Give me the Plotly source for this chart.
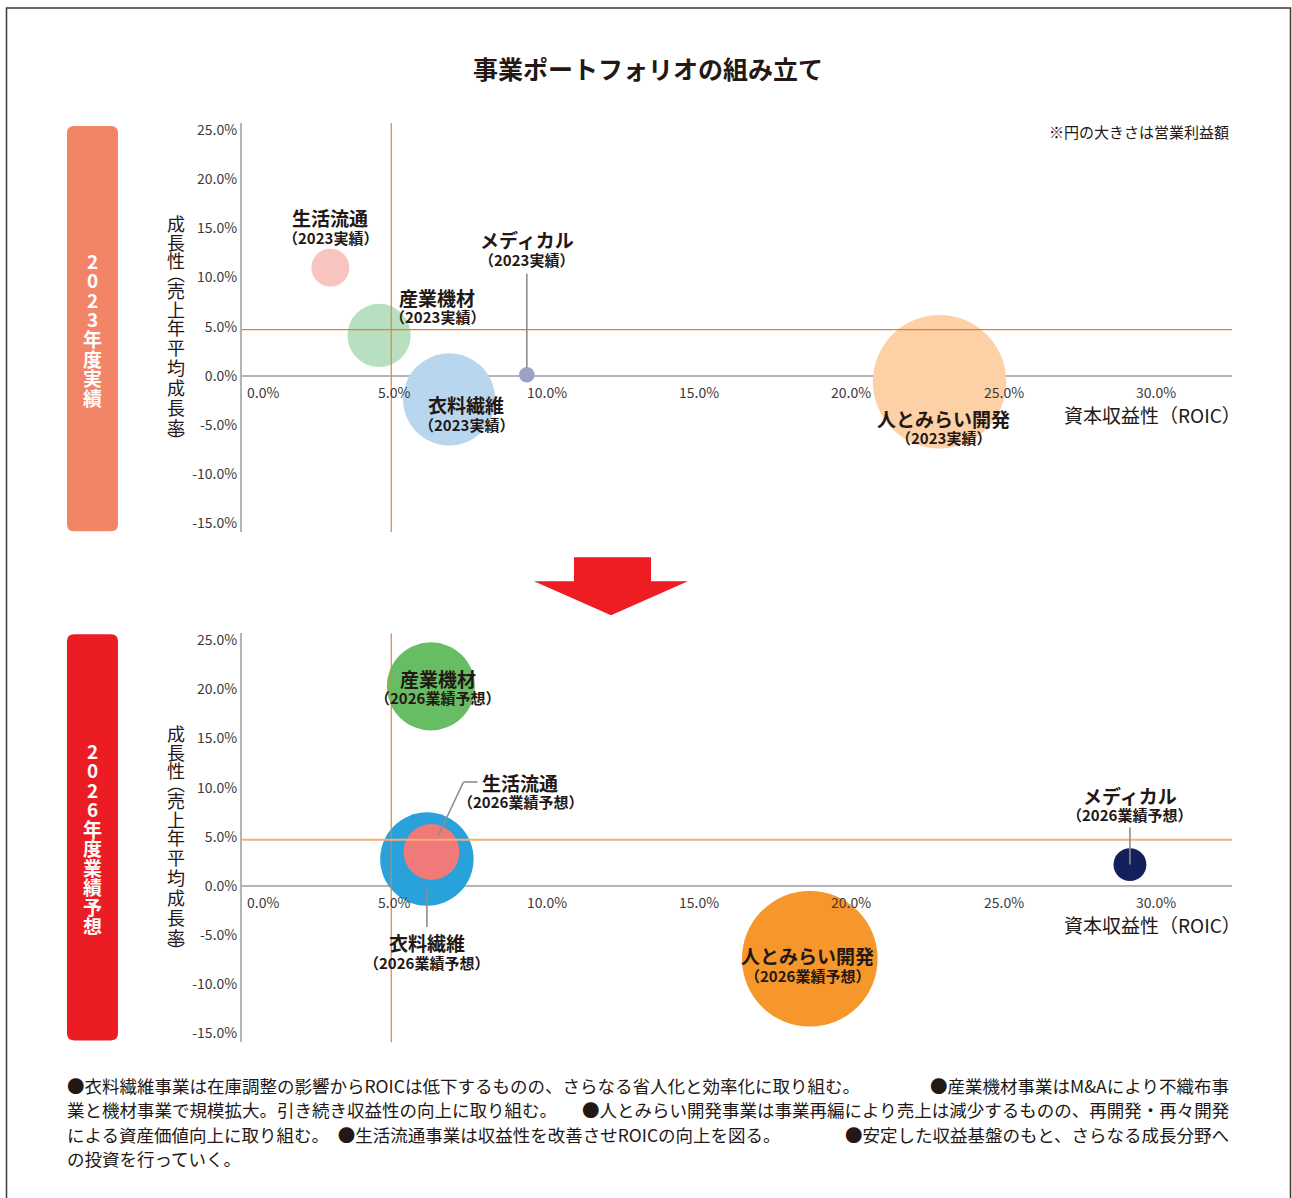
import plotly.graph_objects as go

W, H = 1292, 1198

# ---- data -------------------------------------------------------------
segments = ["衣料繊維", "産業機材", "人とみらい開発", "生活流通", "メディカル"]

roic_2023 = [6.8, 4.5, 22.9, 2.9, 9.35]          # ROIC (%)
growth_2023 = [-2.4, 4.1, -0.6, 11.0, 0.1]       # sales CAGR (%)
profit_2023 = [21.2, 10.0, 44.5, 3.6, 0.6]       # operating profit (bubble area)

roic_2026 = [6.07, 6.2, 18.64, 6.22, 29.15]
growth_2026 = [2.74, 20.3, -7.4, 3.46, 2.18]
profit_2026 = [21.8, 19.4, 46.0, 7.8, 2.7]

tag_2023 = "（2023実績）"
tag_2026 = "（2026業績予想）"

x_ticks = [0, 5, 10, 15, 20, 25, 30]
y_ticks = [-15, -10, -5, 0, 5, 10, 15, 20, 25]
roic_hurdle = 4.9
growth_hurdle = 4.7

title_text = "事業ポートフォリオの組み立て"
note_text = "※円の大きさは営業利益額"
x_title = "資本収益性（ROIC）"
y_title = ["成", "長", "性", "︵", "売", "上", "年", "平", "均", "成", "長", "率", "︶"]
side_2023 = list("2023年度実績")
side_2026 = list("2026年度業績予想")
# each footnote line: (left-aligned part, right-aligned part)
footnote_lines = [
    ("●衣料繊維事業は在庫調整の影響からROICは低下するものの、さらなる省人化と効率化に取り組む。",
     "●産業機材事業はM&Aにより不織布事"),
    ("業と機材事業で規模拡大。引き続き収益性の向上に取り組む。",
     "●人とみらい開発事業は事業再編により売上は減少するものの、再開発・再々開発"),
    ("による資産価値向上に取り組む。　●生活流通事業は収益性を改善させROICの向上を図る。",
     "●安定した収益基盤のもと、さらなる成長分野へ"),
    ("の投資を行っていく。", ""),
]

# ---- styling ------------------------------------------------------------
FONT = "Noto Sans CJK JP, Noto Sans, sans-serif"
INK = "#231815"
AXIS_GREY = "#b4b4b6"
colors_2023 = ["#b9d6ef", "#b8dfc0", "#fdd1a5", "#f8c4c0", "#9fa0c6"]
colors_2026 = ["#29a1da", "#67bd64", "#f6962b", "#f07a79", "#13205c"]

X_RANGE = [0, 32.5]
Y_RANGE = [-15.9, 25.7]


def px(x):
    return x / W


def py(y):
    y = (y - 4) / 0.9963
    return 1 - y / H


def paper_text(x, y, text, size, color=INK, xanchor="center"):
    """Text placed at page pixel position (x, y)."""
    return dict(x=px(x), y=py(y), xref="paper", yref="paper", text=text,
                showarrow=False, xanchor=xanchor, yanchor="middle",
                font=dict(size=size, color=color, family=FONT))


x_dom = [px(242), px(1232)]
top_dom = [py(532), py(123)]
bot_dom = [py(1042), py(633)]

# label offsets (px): dx, name dy, sub dy  (positive dy = up)
offsets_top = {
    "衣料繊維": (17, -5, -25),
    "産業機材": (58, 38, 19),
    "人とみらい開発": (4, -37, -56),
    "生活流通": (0, 50, 30),
    "メディカル": (0, 135, 115),
}
offsets_bot = {
    "衣料繊維": (0, -83, -103),
    "産業機材": (7, 8, -11),
    "人とみらい開発": (-2, 3, -17),
    "生活流通": (89, 69, 50),
    "メディカル": (0, 69, 50),
}
# leader lines: segment -> list of ((dx0, dy0), (dx1, dy1)) in px from bubble centre
leaders_top = {"メディカル": [((0, 7), (0, 101))]}
leaders_bot = {
    "衣料繊維": [((0, -31), (0, -68))],
    "生活流通": [((7, 17), (32, 70)), ((32, 70), (46, 70))],
    "メディカル": [((0, 0), (0, 37))],
}

SIZEREF = 0.005  # radius^2 = profit / (2 * SIZEREF)

fig = go.Figure()
shapes = []
annotations = []


def add_panel(xr, yr, roic, growth, profit, colors, tag, offsets, leaders, zero_px, hline_color, hline_w):
    fig.add_trace(go.Scatter(
        x=roic, y=growth, mode="markers", xaxis=xr, yaxis=yr,
        marker=dict(size=profit, sizemode="area", sizeref=SIZEREF,
                    color=colors, opacity=1, line=dict(width=0)),
        hoverinfo="skip", showlegend=False,
    ))
    # hurdle lines
    shapes.append(dict(type="line", xref=xr, yref=yr, x0=roic_hurdle, x1=roic_hurdle,
                       y0=Y_RANGE[0], y1=Y_RANGE[1], layer="above",
                       line=dict(color="#ee7d2f", width=1.2)))
    shapes.append(dict(type="line", xref=xr, yref=yr, x0=X_RANGE[0], x1=X_RANGE[1],
                       y0=growth_hurdle, y1=growth_hurdle, layer="above",
                       line=dict(color=hline_color, width=hline_w)))
    # labels
    for seg, x, y in zip(segments, roic, growth):
        dx, dyn, dys = offsets[seg]
        annotations.append(dict(x=x, y=y, xref=xr, yref=yr, text="<b>%s</b>" % seg,
                                showarrow=False, xshift=dx, yshift=dyn,
                                xanchor="center", yanchor="middle",
                                font=dict(size=19, color=INK, family=FONT)))
        annotations.append(dict(x=x, y=y, xref=xr, yref=yr, text="<b>%s</b>" % tag,
                                showarrow=False, xshift=dx, yshift=dys,
                                xanchor="center", yanchor="middle",
                                font=dict(size=15, color=INK, family=FONT)))
        for (a, b) in leaders.get(seg, []):
            shapes.append(dict(type="line", xref=xr, yref=yr,
                               xsizemode="pixel", ysizemode="pixel",
                               xanchor=x, yanchor=y,
                               x0=a[0], x1=b[0], y0=a[1], y1=b[1], layer="above",
                               line=dict(color="#8c8c8c", width=1.6)))
    # x tick labels along the zero line
    for t in x_ticks:
        annotations.append(dict(x=t, y=0, xref=xr, yref=yr, text="%.1f%%" % t,
                                showarrow=False, xanchor="center", yanchor="top", yshift=-4,
                                xshift=21 if t == 0 else 0,
                                font=dict(size=14, color="#3a3a3a", family=FONT)))
    # x axis title
    annotations.append(paper_text(1243, zero_px + 38, x_title, 19, xanchor="right"))
    # vertical y-axis title
    rel = [-153, -134.3, -116, -103, -86, -67.5, -49, -29, -9, 11, 31, 51, 64]
    for ch, r in zip(y_title, rel):
        annotations.append(paper_text(176, zero_px + r, ch, 18))


add_panel("x", "y", roic_2023, growth_2023, profit_2023, colors_2023, tag_2023,
          offsets_top, leaders_top, 376, "#ee7d2f", 1.2)
add_panel("x2", "y2", roic_2026, growth_2026, profit_2026, colors_2026, tag_2026,
          offsets_bot, leaders_bot, 886, "#f7ae74", 2)

axis_common_x = dict(range=X_RANGE, domain=x_dom, showgrid=False, zeroline=False,
                     showline=False, showticklabels=False, fixedrange=True)
axis_common_y = dict(range=Y_RANGE, showgrid=False, zeroline=True,
                     zerolinecolor=AXIS_GREY, zerolinewidth=2,
                     showline=True, linecolor=AXIS_GREY, linewidth=2,
                     tickvals=y_ticks, ticktext=["%.1f%%" % v for v in y_ticks],
                     ticks="", ticklabelstandoff=0,
                     tickfont=dict(size=14, color="#3a3a3a", family=FONT), fixedrange=True)


# side badges (rounded rectangles)
def rounded(x0, y0, x1, y1, r):
    X = lambda v: px(v)
    Y = lambda v: py(v)
    return (f"M{X(x0 + r)},{Y(y0)} L{X(x1 - r)},{Y(y0)} Q{X(x1)},{Y(y0)} {X(x1)},{Y(y0 + r)} "
            f"L{X(x1)},{Y(y1 - r)} Q{X(x1)},{Y(y1)} {X(x1 - r)},{Y(y1)} "
            f"L{X(x0 + r)},{Y(y1)} Q{X(x0)},{Y(y1)} {X(x0)},{Y(y1 - r)} "
            f"L{X(x0)},{Y(y0 + r)} Q{X(x0)},{Y(y0)} {X(x0 + r)},{Y(y0)} Z")


shapes.append(dict(type="path", xref="paper", yref="paper", path=rounded(67, 126, 118, 531, 7),
                   fillcolor="#f38468", line=dict(width=0), layer="below"))
shapes.append(dict(type="path", xref="paper", yref="paper", path=rounded(67, 634, 118, 1040, 7),
                   fillcolor="#ec1c24", line=dict(width=0), layer="below"))

for i, ch in enumerate(side_2023):
    annotations.append(paper_text(92.5, 260 + 19.6 * i, "<b>%s</b>" % ch, 19, color="white"))
for i, ch in enumerate(side_2026):
    annotations.append(paper_text(92.5, 750 + 19.5 * i, "<b>%s</b>" % ch, 19, color="white"))

# transition arrow
arrow_pts = [(574, 557), (651, 557), (651, 581), (688, 581), (611, 615), (534, 581), (574, 581)]
arrow_path = "M" + " L".join(f"{px(a)},{py(b)}" for a, b in arrow_pts) + " Z"
shapes.append(dict(type="path", xref="paper", yref="paper", path=arrow_path,
                   fillcolor="#ee1d23", line=dict(width=0)))

# outer frame
shapes.append(dict(type="rect", xref="paper", yref="paper", x0=px(6.5), x1=px(1290.5),
                   y0=py(1210), y1=py(8), line=dict(color="#3a3a3a", width=1.5),
                   fillcolor="rgba(0,0,0,0)"))

# title and note
annotations.append(paper_text(648, 68, "<b>%s</b>" % title_text, 25))
annotations.append(paper_text(1231, 131, note_text, 15, xanchor="right"))

# footnote, justified between the left and right margins
for i, (left, right) in enumerate(footnote_lines):
    yy = 1085 + 24.5 * i
    annotations.append(paper_text(65, yy, left, 17.5, xanchor="left"))
    if right:
        annotations.append(paper_text(1231, yy, right, 17.5, xanchor="right"))

fig.update_layout(
    width=W, height=H, margin=dict(l=0, r=0, t=0, b=0),
    paper_bgcolor="white", plot_bgcolor="rgba(0,0,0,0)",
    font=dict(family=FONT, color=INK),
    xaxis=dict(**axis_common_x, anchor="y"),
    yaxis=dict(**axis_common_y, domain=top_dom, anchor="x"),
    xaxis2=dict(**axis_common_x, anchor="y2"),
    yaxis2=dict(**axis_common_y, domain=bot_dom, anchor="x2"),
    shapes=shapes, annotations=annotations,
    hovermode=False, showlegend=False,
)

fig.write_html("out.html", config={"displayModeBar": False})
